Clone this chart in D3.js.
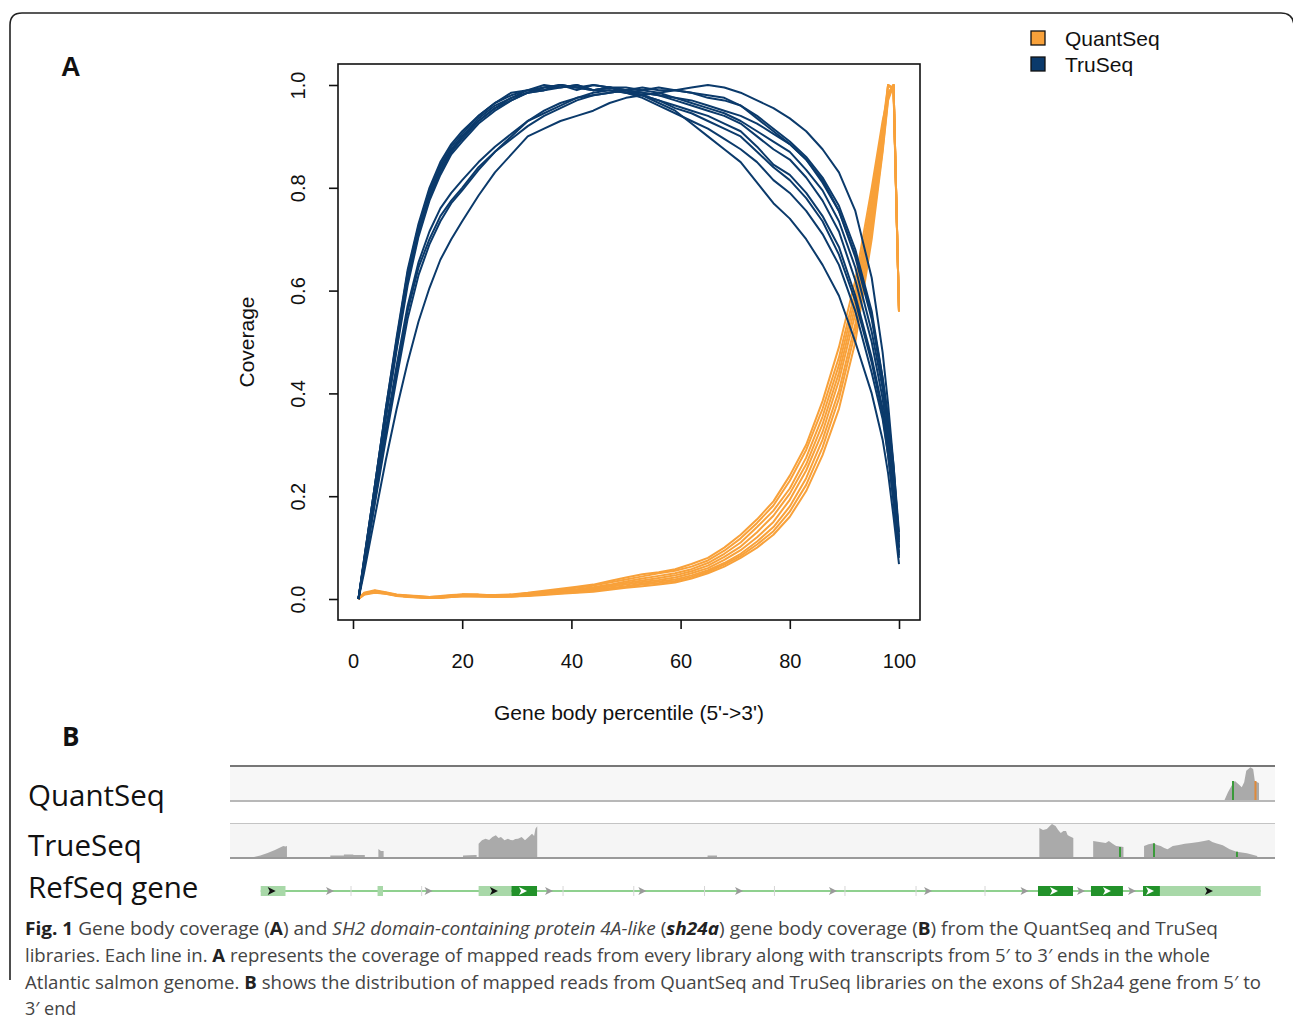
<!DOCTYPE html>
<html>
<head>
<meta charset="utf-8">
<script src="https://cdn.jsdelivr.net/npm/d3@7"></script>
<style>
  body { margin: 0; background: #fff; }
  svg { display: block; }
</style>
</head>
<body>
<script>
// ---- panel A: gene body coverage ----
var percentiles = [1,2,4,6,8,10,12,14,16,18,20,23,26,29,32,35,38,41,44,47,50,53,56,59,62,65,68,71,74,77,80,83,86,89,92,95,97,98,99,100];

var truSeqRuns = [
  [0,.05,.16,.27,.37,.46,.54,.605,.66,.70,.735,.785,.83,.865,.9,.915,.93,.94,.95,.965,.975,.98,.985,.99,.995,1.0,.995,.985,.97,.955,.935,.91,.875,.83,.755,.625,.48,.38,.26,.115],
  [0,.06,.19,.32,.44,.56,.645,.70,.745,.775,.80,.84,.87,.9,.93,.945,.96,.975,.98,.985,.99,.995,.99,.99,.985,.98,.975,.96,.94,.915,.89,.86,.82,.765,.68,.56,.43,.35,.25,.12],
  [0,.065,.20,.33,.455,.57,.655,.715,.76,.79,.815,.85,.88,.905,.93,.95,.965,.975,.985,.99,.985,.99,.995,.99,.985,.975,.97,.96,.935,.91,.885,.855,.81,.755,.67,.55,.43,.355,.26,.13],
  [0,.07,.21,.36,.5,.63,.72,.79,.84,.875,.9,.935,.96,.975,.99,.99,1.0,.995,1.0,.995,.995,.99,.985,.975,.97,.96,.95,.94,.925,.905,.885,.855,.815,.755,.665,.545,.42,.33,.22,.10],
  [0,.075,.22,.37,.51,.64,.73,.80,.85,.885,.91,.94,.965,.985,.99,1.0,.995,1.0,.99,.995,.99,.985,.98,.975,.965,.955,.945,.93,.91,.89,.87,.835,.795,.735,.645,.52,.41,.33,.23,.11],
  [0,.06,.185,.31,.43,.545,.63,.69,.735,.77,.795,.835,.87,.895,.92,.94,.955,.97,.98,.985,.99,.985,.98,.97,.96,.95,.94,.925,.9,.875,.855,.82,.775,.715,.62,.50,.39,.31,.21,.09],
  [0,.07,.215,.355,.49,.62,.71,.78,.83,.87,.895,.93,.955,.975,.985,.995,1.0,.99,1.0,.995,.99,.98,.97,.96,.95,.94,.925,.91,.88,.845,.825,.79,.745,.685,.59,.47,.37,.3,.21,.10],
  [0,.072,.22,.365,.5,.625,.715,.785,.835,.87,.9,.93,.955,.97,.985,.99,.995,1.0,.99,.99,.985,.98,.97,.955,.945,.93,.915,.9,.87,.84,.815,.78,.735,.67,.58,.46,.36,.28,.19,.08],
  [0,.068,.205,.35,.485,.61,.705,.775,.825,.865,.89,.925,.95,.97,.985,.99,1.0,.995,.99,.995,.985,.975,.96,.945,.93,.915,.895,.875,.85,.815,.79,.755,.71,.65,.56,.44,.35,.28,.19,.085],
  [0,.075,.22,.37,.505,.635,.725,.795,.845,.88,.905,.94,.965,.98,.99,.995,1.0,.995,.99,.995,.99,.98,.965,.95,.925,.9,.875,.85,.81,.77,.74,.7,.65,.59,.5,.4,.31,.245,.16,.068]
];

var quantSeqRuns = [
  [0,.01,.015,.012,.008,.007,.006,.004,.005,.007,.009,.008,.008,.009,.012,.016,.02,.024,.028,.035,.042,.048,.052,.058,.068,.08,.1,.125,.155,.19,.24,.3,.385,.49,.62,.8,.93,.98,1.0,.56],
  [0,.012,.017,.013,.009,.007,.005,.004,.006,.008,.009,.009,.007,.008,.011,.014,.018,.022,.026,.032,.038,.044,.05,.055,.063,.075,.094,.118,.148,.182,.23,.29,.37,.47,.6,.785,.92,1.0,.99,.56],
  [0,.009,.014,.011,.008,.006,.005,.003,.004,.006,.008,.007,.006,.007,.01,.013,.016,.019,.023,.028,.034,.04,.045,.05,.058,.07,.088,.11,.14,.172,.215,.275,.355,.455,.585,.77,.91,.985,1.0,.56],
  [0,.01,.016,.012,.008,.006,.004,.003,.004,.006,.007,.007,.006,.006,.009,.012,.015,.018,.021,.026,.031,.036,.041,.046,.054,.065,.082,.102,.13,.162,.205,.262,.34,.44,.57,.76,.905,1.0,.995,.56],
  [0,.011,.015,.011,.007,.005,.004,.003,.003,.005,.007,.006,.005,.006,.008,.011,.013,.016,.019,.024,.028,.033,.037,.042,.05,.06,.076,.095,.12,.15,.193,.25,.325,.425,.555,.745,.895,.98,1.0,.56],
  [0,.009,.013,.01,.007,.005,.003,.002,.003,.005,.006,.006,.005,.005,.007,.01,.012,.014,.017,.021,.025,.03,.034,.038,.046,.056,.07,.088,.112,.14,.18,.235,.31,.405,.535,.73,.885,1.0,.99,.56],
  [0,.01,.014,.011,.007,.005,.004,.002,.003,.004,.006,.005,.005,.005,.007,.009,.011,.013,.016,.02,.024,.028,.031,.035,.043,.053,.067,.084,.106,.132,.17,.222,.295,.39,.52,.715,.875,.975,1.0,.56],
  [0,.008,.012,.01,.006,.004,.003,.002,.002,.004,.005,.005,.004,.005,.006,.008,.01,.012,.014,.018,.022,.025,.028,.032,.04,.05,.063,.08,.1,.125,.16,.21,.28,.37,.5,.7,.87,.97,1.0,.56]
];

var xTicks = [0,20,40,60,80,100];
var yTicks = [0,0.2,0.4,0.6,0.8,1.0];
var legendNames = ["QuantSeq","TruSeq"];
var legendColors = ["#f8a13a","#0b3a6b"];

// ---- panel B: genome browser tracks (locus position 0-100, depth in reads) ----
var trackNames = ["QuantSeq","TrueSeq","RefSeq gene"];

var quantCoverage = [
  [[95.17,0],[95.5,7.7],[95.83,14],[96.0,17],[96.16,19],[96.49,16],[96.82,12.7],[97.05,17.7],[97.25,29.3],[97.45,31],[97.64,32.7],[97.91,31],[98.07,19],[98.3,17.7],[98.47,17],[98.47,0]]
];
var quantMismatch = [[95.98,"#3a9a3a",19],[98.13,"#e08a3a",19]];

var trueCoverage = [
  [[2.3,0],[2.9,1.5],[3.6,4],[4.3,7],[4.8,9.5],[5.1,11],[5.3,10.5],[5.45,11],[5.45,0]],
  [[9.6,0],[9.6,1.5],[10.9,1.5],[10.9,2.5],[11.8,2.5],[11.8,2],[12.9,2],[12.9,0]],
  [[14.2,0],[14.2,8],[14.45,6],[14.7,6],[14.7,0]],
  [[22.3,0],[22.3,1.5],[23.4,2],[23.6,2],[23.6,0]],
  [[23.79,0],[23.79,13.3],[24.11,16.7],[24.45,18.3],[24.8,17],[25.11,20],[25.44,21.7],[25.7,19],[25.93,20],[26.27,16.7],[26.6,18.3],[26.85,17],[27.08,16.7],[27.3,18],[27.56,18.3],[27.91,20],[28.23,16.7],[28.57,20],[28.9,23.3],[29.1,21],[29.23,28.3],[29.4,30.7],[29.4,0]],
  [[45.7,0],[45.7,1.5],[46.6,1.5],[46.6,0]],
  [[77.45,0],[77.45,29],[77.8,27],[78.17,28],[78.45,31],[78.66,33],[79.0,31],[79.25,27],[79.5,24],[79.75,26],[80.0,26],[80.15,22],[80.3,21],[80.5,20],[80.7,19],[80.7,0]],
  [[82.6,0],[82.6,16],[83.2,15],[83.8,14],[84.1,16],[84.5,13],[84.8,11],[85.2,10.5],[85.5,10],[85.5,0]],
  [[87.47,0],[87.47,11],[87.9,12.7],[88.4,13.7],[88.7,12],[89.06,11],[89.4,9],[89.72,7.7],[90.22,11],[90.8,12],[91.37,13.3],[92.0,14],[92.69,15],[93.2,16],[93.68,17],[94.0,15],[94.35,13.7],[95.0,11.7],[95.66,7.7],[96.33,5.3],[97.31,3.7],[98.3,1],[98.3,0]]
];
var trueMismatch = [[85.17,"#3a9a3a",10],[88.42,"#3a9a3a",13.7],[96.36,"#3a9a3a",5.3]];

var geneSpan = [2.94, 98.63];
var exons = [
  [2.94,5.31,"utr"],[14.12,14.64,"utr"],[23.79,26.93,"utr"],[26.93,29.38,"cds"],
  [77.32,80.67,"cds"],[82.39,85.45,"cds"],[87.37,88.99,"cds"],[88.99,98.63,"utr"]
];
var intronArrows = [9.57,19.0,30.53,39.46,48.71,57.7,66.8,76.03,81.44,86.32];
var rulerMarks = [11.58,18.34,31.87,38.64,45.41,52.1,58.85,65.65,72.25];
var exonArrows = [[3.99,"#111"],[25.26,"#111"],[93.68,"#111"],[28.04,"#fff"],[78.85,"#fff"],[83.92,"#fff"],[88.04,"#fff"]];

var captionLines = [
  [["Fig. 1","b"],[" Gene body coverage (",""],["A","b"],[") and ",""],["SH2 domain-containing protein 4A-like","i"],[" (",""],["sh24a","bi"],[") gene body coverage (",""],["B","b"],[") from the QuantSeq and TruSeq",""]],
  [["libraries. Each line in. ",""],["A","b"],[" represents the coverage of mapped reads from every library along with transcripts from 5\u2032 to 3\u2032 ends in the whole",""]],
  [["Atlantic salmon genome. ",""],["B","b"],[" shows the distribution of mapped reads from QuantSeq and TruSeq libraries on the exons of Sh2a4 gene from 5\u2032 to",""]],
  [["3\u2032 end",""]]
];
var captionWidths = [1193, 1185, 1236, null];

var svg = d3.select("body").append("svg").attr("width", 1293).attr("height", 1023);
svg.append("rect").attr("width", 1293).attr("height", 1023).attr("fill", "#fff");

// outer frame
svg.append("path")
  .attr("d", "M10,980 L10,25 Q10,13 22,13 L1281,13 Q1293,13 1294,25")
  .attr("fill", "none").attr("stroke", "#222").attr("stroke-width", 1.6);

var arial = "'Liberation Sans', Arial, Helvetica, sans-serif";

// ---- A ----
svg.append("text").attr("x", 61).attr("y", 76).text("A")
  .attr("font-family", arial).attr("font-weight", "bold").attr("font-size", 27).attr("fill", "#111");

var x = d3.scaleLinear().domain([0, 100]).range([353, 899]);
var y = d3.scaleLinear().domain([0, 1]).range([599, 85]);

var line = d3.line()
  .x(function(d, i) { return x(percentiles[i]); })
  .y(function(d) { return y(d); });

var plot = svg.append("g");

plot.selectAll("path.quant")
  .data(quantSeqRuns)
  .enter().append("path")
  .attr("class", "quant")
  .attr("fill", "none").attr("stroke", legendColors[0]).attr("stroke-width", 2)
  .attr("stroke-linejoin", "round")
  .attr("d", line);

plot.selectAll("path.tru")
  .data(truSeqRuns)
  .enter().append("path")
  .attr("class", "tru")
  .attr("fill", "none").attr("stroke", legendColors[1]).attr("stroke-width", 2)
  .attr("stroke-linejoin", "round")
  .attr("d", line);

svg.append("rect").attr("x", 338).attr("y", 64).attr("width", 582).attr("height", 556)
  .attr("fill", "none").attr("stroke", "#111").attr("stroke-width", 1.6);

var xAxis = svg.append("g").attr("transform", "translate(0,620)")
  .call(d3.axisBottom(x).tickValues(xTicks).tickSize(9).tickPadding(25).tickFormat(d3.format("d")));
var yAxis = svg.append("g").attr("transform", "translate(338,0)")
  .call(d3.axisLeft(y).tickValues(yTicks).tickSize(9).tickFormat(d3.format(".1f")));

[xAxis, yAxis].forEach(function(ax) {
  ax.select(".domain").remove();
  ax.selectAll("line").attr("stroke", "#111").attr("stroke-width", 1.6);
  ax.selectAll("text").attr("font-family", arial).attr("font-size", 20).attr("fill", "#111");
});
yAxis.selectAll("text")
  .attr("x", 0).attr("dy", null)
  .attr("text-anchor", "middle").attr("dominant-baseline", "central")
  .attr("transform", "translate(-40,0) rotate(-90)");

svg.append("text").attr("transform", "translate(246,342) rotate(-90)")
  .attr("text-anchor", "middle").attr("dominant-baseline", "central")
  .attr("font-family", arial).attr("font-size", 21).attr("fill", "#111")
  .text("Coverage");

svg.append("text").attr("x", 629).attr("y", 720).attr("text-anchor", "middle")
  .attr("font-family", arial).attr("font-size", 21).attr("fill", "#111")
  .text("Gene body percentile (5'->3')");

var legend = svg.append("g").attr("transform", "translate(1031,31)");
legendNames.forEach(function(name, i) {
  legend.append("rect").attr("x", 0).attr("y", i * 26).attr("width", 14).attr("height", 14)
    .attr("fill", legendColors[i]).attr("stroke", "#111").attr("stroke-width", 1.3);
  legend.append("text").attr("x", 34).attr("y", i * 26 + 15)
    .attr("font-family", arial).attr("font-size", 21).attr("fill", "#111").text(name);
});

// ---- B ----
var sans = "'Open Sans', 'Noto Sans', sans-serif";
svg.append("text").attr("x", 62).attr("y", 746).text("B")
  .attr("font-family", sans).attr("font-weight", "bold").attr("font-size", 26).attr("fill", "#111");

var labelY = [806, 856, 898];
trackNames.forEach(function(name, i) {
  svg.append("text").attr("x", 28).attr("y", labelY[i])
    .attr("font-family", sans).attr("font-size", 29.5).attr("fill", "#111").text(name);
});

var loc = d3.scaleLinear().domain([0, 100]).range([230, 1275]);
var depth = d3.scaleLinear().domain([0, 35]).range([0, 35]);

// track backgrounds and separators
svg.append("rect").attr("x", 230).attr("y", 767).attr("width", 1045).attr("height", 33).attr("fill", "#f7f7f7");
svg.append("rect").attr("x", 230).attr("y", 824).attr("width", 1045).attr("height", 33).attr("fill", "#f5f5f5");

function drawCoverage(blocks, marks, base) {
  var area = d3.area()
    .x(function(d) { return loc(d[0]); })
    .y0(base)
    .y1(function(d) { return base - depth(d[1]); });
  svg.append("g").selectAll("path")
    .data(blocks).enter().append("path")
    .attr("fill", "#aaaaaa").attr("d", area);
  svg.append("g").selectAll("line")
    .data(marks).enter().append("line")
    .attr("x1", function(d) { return loc(d[0]); }).attr("x2", function(d) { return loc(d[0]); })
    .attr("y1", base).attr("y2", function(d) { return base - depth(d[2]); })
    .attr("stroke", function(d) { return d[1]; }).attr("stroke-width", 2);
}
drawCoverage(quantCoverage, quantMismatch, 800);
drawCoverage(trueCoverage, trueMismatch, 857);

svg.append("line").attr("x1", 230).attr("x2", 1275).attr("y1", 766).attr("y2", 766).attr("stroke", "#777").attr("stroke-width", 2);
svg.append("line").attr("x1", 230).attr("x2", 1275).attr("y1", 801).attr("y2", 801).attr("stroke", "#a0a0a0").attr("stroke-width", 1.6);
svg.append("line").attr("x1", 230).attr("x2", 1275).attr("y1", 823.5).attr("y2", 823.5).attr("stroke", "#c4c4c4").attr("stroke-width", 1);
svg.append("line").attr("x1", 230).attr("x2", 1275).attr("y1", 858).attr("y2", 858).attr("stroke", "#9a9a9a").attr("stroke-width", 1.8);

// gene model
var geneY = 891;
var gene = svg.append("g");
gene.append("line").attr("x1", loc(geneSpan[0])).attr("x2", loc(geneSpan[1]))
  .attr("y1", geneY).attr("y2", geneY).attr("stroke", "#8fd08f").attr("stroke-width", 2);
gene.selectAll("line.mark").data(rulerMarks).enter().append("line").attr("class", "mark")
  .attr("x1", function(d) { return loc(d); }).attr("x2", function(d) { return loc(d); })
  .attr("y1", geneY - 5).attr("y2", geneY + 5).attr("stroke", "#d6d6d6").attr("stroke-width", 1);
gene.selectAll("path.intron").data(intronArrows).enter().append("path").attr("class", "intron")
  .attr("transform", function(d) { return "translate(" + loc(d) + "," + geneY + ")"; })
  .attr("d", "M-4,-4 L4,0 L-4,4 L-2,0 Z").attr("fill", "#9a9a9a");
gene.selectAll("rect.exon").data(exons).enter().append("rect").attr("class", "exon")
  .attr("x", function(d) { return loc(d[0]); })
  .attr("width", function(d) { return loc(d[1]) - loc(d[0]); })
  .attr("y", geneY - 5).attr("height", 10)
  .attr("fill", function(d) { return d[2] === "cds" ? "#22922a" : "#a8d8a8"; });
gene.selectAll("path.exonArrow").data(exonArrows).enter().append("path").attr("class", "exonArrow")
  .attr("transform", function(d) { return "translate(" + loc(d[0]) + "," + geneY + ")"; })
  .attr("d", "M-4,-4 L4,0 L-4,4 L-2,0 Z").attr("fill", function(d) { return d[1]; });

// ---- caption ----
var caption = svg.append("g").attr("font-family", sans).attr("font-size", 18).attr("fill", "#444");
captionLines.forEach(function(parts, i) {
  var t = caption.append("text").attr("x", 25).attr("y", 935 + i * 26.8);
  if (captionWidths[i]) t.attr("textLength", captionWidths[i]).attr("lengthAdjust", "spacingAndGlyphs");
  parts.forEach(function(p) {
    var s = t.append("tspan").text(p[0]);
    if (p[1].indexOf("b") >= 0) s.attr("font-weight", "bold").attr("fill", "#222");
    if (p[1].indexOf("i") >= 0) s.attr("font-style", "italic");
  });
});
</script>
</body>
</html>
